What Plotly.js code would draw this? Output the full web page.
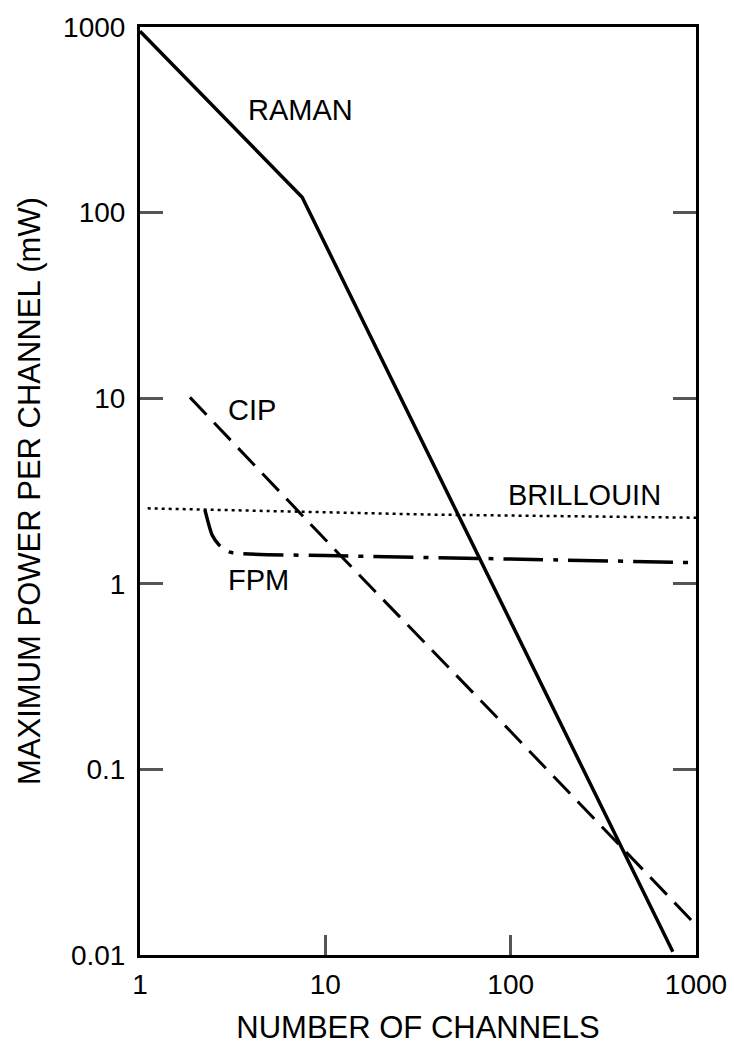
<!DOCTYPE html>
<html>
<head>
<meta charset="utf-8">
<script src="https://cdn.plot.ly/plotly-3.0.1.min.js"></script>
<style>
  html, body { margin: 0; padding: 0; background: #fff; }
  #chart { width: 734px; height: 1049px; }
</style>
</head>
<body>
<div id="chart"></div>
<script>
// Number of channels (x) and maximum power per channel in mW (y)
const ramanN = [1, 7.5, 750];
const ramanP = [950, 121, 0.0104];

const cipN = [1.86, 11.6, 100, 1000];
const cipP = [10.1, 1.48, 0.16, 0.0145];

const brillouinN = [1.1, 37, 1000];
const brillouinP = [2.55, 2.36, 2.27];

const fpmN = [2.24, 2.45, 2.67, 3.06, 10, 100, 1000];
const fpmP = [2.50, 1.83, 1.62, 1.48, 1.42, 1.36, 1.30];

const xTickVals = [1, 10, 100, 1000];
const xTickText = ["1", "10", "100", "1000"];
const yTickVals = [0.01, 0.1, 1, 10, 100, 1000];
const yTickText = ["0.01", "0.1", "1", "10", "100", "1000"];

const seriesNames = ["RAMAN", "CIP", "BRILLOUIN", "FPM"];

const FONT = "Liberation Sans, Arial, Helvetica, sans-serif";

const traces = [
  { x: ramanN, y: ramanP, name: seriesNames[0], mode: "lines",
    line: { color: "#000", width: 3.5 } },
  { x: cipN, y: cipP, name: seriesNames[1], mode: "lines",
    line: { color: "#000", width: 3, dash: "24px,11px" } },
  { x: brillouinN, y: brillouinP, name: seriesNames[2], mode: "lines",
    line: { color: "#000", width: 2.5, dash: "3px,4px" } },
  { x: fpmN, y: fpmP, name: seriesNames[3], mode: "lines",
    line: { color: "#000", width: 3.5, dash: "40px,10px,5px,10px", shape: "spline", smoothing: 0.6 } }
];

const labelFont = { family: FONT, size: 29, color: "#000" };

const layout = {
  width: 734, height: 1049,
  margin: { l: 140, r: 38, t: 27, b: 94 },
  paper_bgcolor: "#fff", plot_bgcolor: "#fff",
  showlegend: false,
  font: { family: FONT, color: "#000" },
  xaxis: {
    type: "log", range: [0, 3],
    tickvals: xTickVals, ticktext: xTickText,
    ticks: "inside", ticklen: 20, tickwidth: 3, tickcolor: "#555",
    showline: true, linecolor: "#000", linewidth: 3, mirror: true,
    showgrid: false, zeroline: false,
    tickfont: { family: FONT, size: 28, color: "#000" },
    ticklabelstandoff: 2,
    title: { text: "NUMBER OF CHANNELS", font: { family: FONT, size: 31, color: "#000" }, standoff: 18 }
  },
  yaxis: {
    type: "log", range: [-2, 3],
    tickvals: yTickVals, ticktext: yTickText,
    ticks: "inside", ticklen: 23, tickwidth: 3, tickcolor: "#555",
    showline: true, linecolor: "#000", linewidth: 3, mirror: "ticks",
    showgrid: false, zeroline: false,
    tickfont: { family: FONT, size: 28, color: "#000" },
    ticklabelstandoff: 6,
    title: { text: "MAXIMUM POWER PER CHANNEL (mW)", font: { family: FONT, size: 31, color: "#000" }, standoff: 14 }
  },
  annotations: [
    { text: "RAMAN", x: Math.log10(7.3), y: Math.log10(357), xref: "x", yref: "y", showarrow: false, font: labelFont },
    { text: "CIP", x: Math.log10(4.02), y: Math.log10(8.6), xref: "x", yref: "y", showarrow: false, font: labelFont },
    { text: "BRILLOUIN", x: Math.log10(249), y: Math.log10(3.0), xref: "x", yref: "y", showarrow: false, font: labelFont },
    { text: "FPM", x: Math.log10(4.34), y: Math.log10(1.05), xref: "x", yref: "y", showarrow: false, font: labelFont }
  ]
};

Plotly.newPlot("chart", traces, layout, { staticPlot: true, displayModeBar: false });
</script>
</body>
</html>
